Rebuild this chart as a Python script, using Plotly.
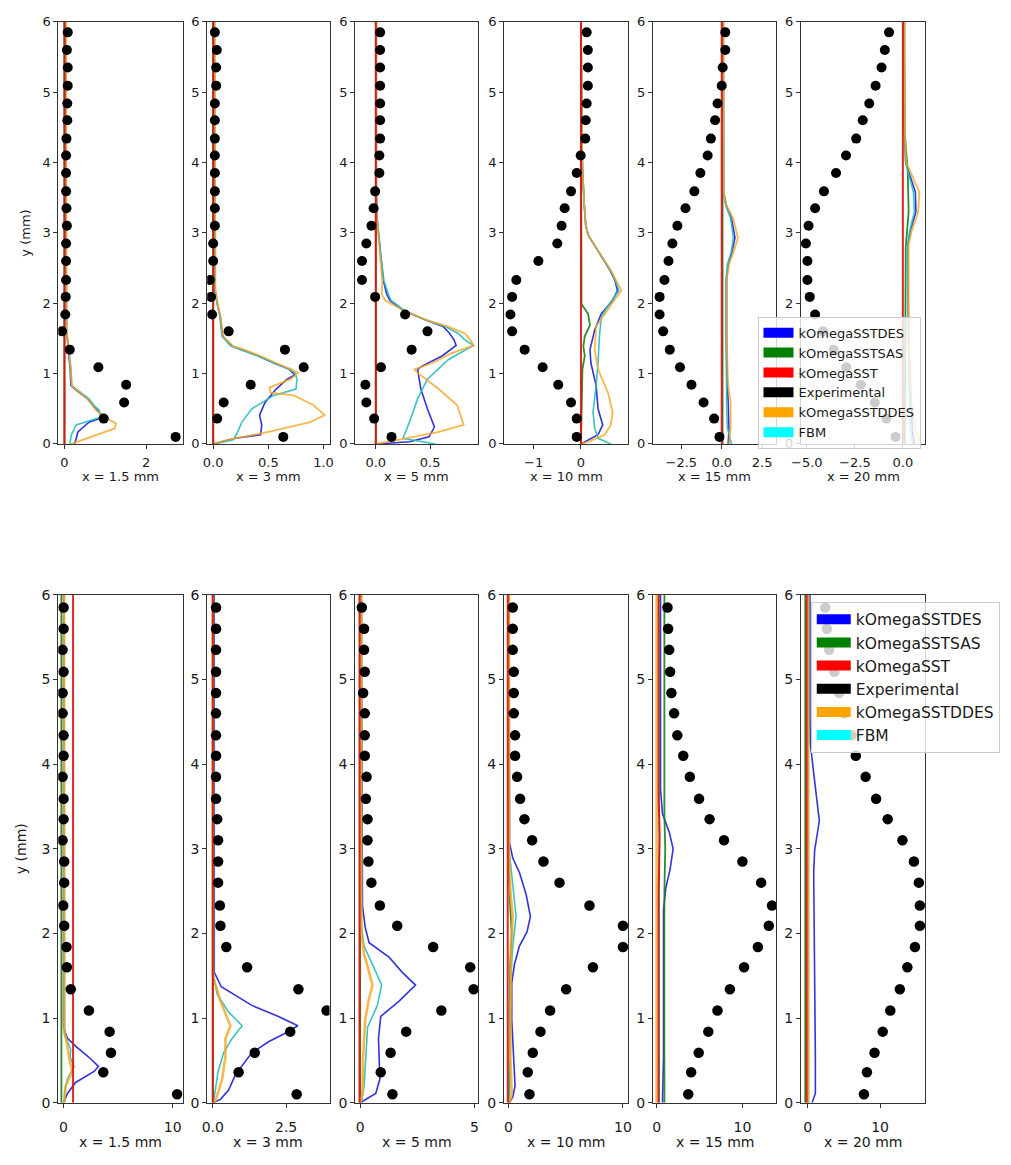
import plotly.graph_objects as go

W, H = 1011, 1165

# ---------------------------------------------------------------------------
# Data
# ---------------------------------------------------------------------------
models = ["kOmegaSSTDES", "kOmegaSSTSAS", "kOmegaSST", "Experimental", "kOmegaSSTDDES", "FBM"]
stations = ["1.5", "3", "5", "10", "15", "20"]
y_ticks = [0, 1, 2, 3, 4, 5, 6]

# experimental measurement heights (mm), shared by every station
y_exp = [0.10, 0.36, 0.59, 0.84, 1.09, 1.34, 1.60, 1.84, 2.09, 2.33, 2.60, 2.85,
         3.10, 3.35, 3.59, 3.85, 4.10, 4.34, 4.60, 4.84, 5.09, 5.35, 5.60, 5.85]

# ----- upper row: experimental profiles -----
a1p5_exp = [2.72, 0.96, 1.46, 1.51, 0.83, 0.13, -0.06, 0.02, 0.03, 0.04, 0.04, 0.04,
            0.06, 0.05, 0.04, 0.04, 0.04, 0.05, 0.07, 0.07, 0.08, 0.08, 0.06, 0.08]
a3_exp = [0.635, 0.036, 0.095, 0.34, 0.82, 0.65, 0.14, -0.01, -0.02, -0.03, 0.0, 0.0,
          0.015, 0.015, 0.015, 0.015, 0.015, 0.015, 0.015, 0.015, 0.027, 0.027, 0.033, 0.015]
a5_exp = [0.145, -0.015, -0.087, -0.096, 0.048, 0.33, 0.476, 0.27, -0.006, -0.127, -0.127, -0.087,
          -0.04, -0.02, -0.006, 0.033, 0.033, 0.04, 0.04, 0.04, 0.04, 0.04, 0.04, 0.04]
a10_exp = [-0.09, -0.09, -0.21, -0.48, -0.81, -1.19, -1.455, -1.49, -1.455, -1.366, -0.9, -0.5,
           -0.41, -0.345, -0.21, -0.09, -0.007, 0.09, 0.1, 0.12, 0.145, 0.145, 0.145, 0.12]
a15_exp = [-0.14, -0.47, -1.12, -1.87, -2.58, -3.21, -3.62, -3.84, -3.84, -3.54, -3.29, -3.05,
           -2.74, -2.24, -1.69, -1.32, -0.87, -0.67, -0.41, -0.26, 0.0, 0.06, 0.22, 0.22]
a20_exp = [-0.38, -0.86, -1.46, -2.19, -2.95, -3.6, -4.16, -4.57, -4.85, -4.97, -4.97, -5.05,
           -4.91, -4.57, -4.11, -3.48, -2.96, -2.43, -2.09, -1.75, -1.42, -1.11, -0.94, -0.72]

# ----- upper row: simulations, x = 1.5 mm -----
a1p5_des_y = [0, 0.17, 0.31, 0.38, 0.48, 0.55, 0.64, 0.76, 0.83, 1.06, 1.34, 1.62, 6]
a1p5_des_u = [0.25, 0.33, 0.6, 0.96, 0.8, 0.69, 0.57, 0.29, 0.16, 0.14, 0.09, 0.05, 0.02]
a1p5_sas_y = [0, 6]
a1p5_sas_u = [0, 0]
a1p5_sst_y = [0, 6]
a1p5_sst_u = [0, 0]
a1p5_ddes_y = [0, 0.13, 0.22, 0.29, 0.38, 0.48, 0.55, 0.64, 0.76, 0.83, 1.06, 1.34, 1.62, 6]
a1p5_ddes_u = [0.17, 0.77, 1.23, 1.26, 1.0, 0.77, 0.68, 0.56, 0.3, 0.18, 0.15, 0.11, 0.05, 0.04]
a1p5_fbm_y = [0, 0.13, 0.27, 0.38, 0.48, 0.55, 0.64, 0.76, 0.83, 1.06, 1.34, 1.62, 6]
a1p5_fbm_u = [0.13, 0.17, 0.29, 0.88, 0.85, 0.72, 0.6, 0.32, 0.18, 0.16, 0.1, 0.05, 0.03]

# ----- upper row: x = 3 mm -----
a3_des_y = [0, 0.08, 0.13, 0.27, 0.41, 0.59, 0.78, 0.92, 0.98, 1.06, 1.15, 1.25, 1.34, 1.39, 1.53, 1.81, 2.0, 2.2, 6]
a3_des_u = [0, 0.2, 0.43, 0.44, 0.42, 0.47, 0.57, 0.67, 0.74, 0.69, 0.55, 0.41, 0.26, 0.17, 0.086, 0.065, 0.036, 0.015, 0.01]
a3_sas_y = [0, 6]
a3_sas_u = [0, 0]
a3_sst_y = [0, 6]
a3_sst_u = [0, 0]
a3_ddes_y = [0, 0.06, 0.17, 0.31, 0.41, 0.55, 0.69, 0.73, 0.80, 0.92, 1.01, 1.06, 1.15, 1.25, 1.34, 1.39, 1.53, 1.81, 2.0, 2.2, 6]
a3_ddes_u = [0, 0.14, 0.5, 0.88, 1.01, 0.91, 0.73, 0.52, 0.51, 0.70, 0.77, 0.71, 0.57, 0.43, 0.28, 0.18, 0.09, 0.065, 0.04, 0.02, 0.015]
a3_fbm_y = [0, 0.06, 0.13, 0.31, 0.5, 0.69, 0.78, 0.92, 1.01, 1.06, 1.15, 1.25, 1.34, 1.39, 1.53, 1.81, 2.0, 2.2, 6]
a3_fbm_u = [0.02, 0.18, 0.21, 0.26, 0.35, 0.55, 0.75, 0.76, 0.74, 0.69, 0.55, 0.41, 0.25, 0.16, 0.08, 0.06, 0.035, 0.015, 0.01]

# ----- upper row: x = 5 mm -----
a5_des_y = [0, 0.03, 0.1, 0.24, 0.5, 0.78, 1.06, 1.11, 1.25, 1.4, 1.48, 1.57, 1.67, 1.76, 1.9, 2.04, 2.13, 2.32, 2.69, 3.16, 3.58, 6]
a5_des_u = [0.0, 0.31, 0.49, 0.54, 0.475, 0.415, 0.385, 0.43, 0.61, 0.74, 0.72, 0.68, 0.62, 0.46, 0.25, 0.13, 0.1, 0.07, 0.045, 0.015, 0.005, 0.005]
a5_sas_y = [0, 6]
a5_sas_u = [0, 0]
a5_sst_y = [0, 6]
a5_sst_u = [0, 0]
a5_ddes_y = [0, 0.06, 0.17, 0.27, 0.55, 0.78, 1.01, 1.06, 1.15, 1.29, 1.4, 1.48, 1.57, 1.67, 1.76, 1.9, 2.04, 2.13, 2.32, 2.69, 3.16, 3.58, 6]
a5_ddes_u = [0, 0.22, 0.58, 0.81, 0.75, 0.58, 0.385, 0.355, 0.52, 0.70, 0.9, 0.87, 0.82, 0.66, 0.47, 0.25, 0.085, 0.055, 0.06, 0.04, 0.012, 0.003, 0.003]
a5_fbm_y = [0, 0.08, 0.31, 0.64, 0.92, 1.2, 1.4, 1.48, 1.57, 1.67, 1.76, 1.9, 2.04, 2.13, 2.32, 2.69, 3.16, 3.58, 6]
a5_fbm_u = [0.55, 0.25, 0.31, 0.385, 0.475, 0.67, 0.9, 0.82, 0.76, 0.64, 0.46, 0.26, 0.14, 0.115, 0.075, 0.045, 0.015, 0.005, 0.005]

# ----- upper row: x = 10 mm -----
a10_des_y = [0, 0.03, 0.13, 0.27, 0.5, 0.83, 1.15, 1.34, 1.62, 1.85, 2.04, 2.18, 2.32, 2.46, 2.6, 2.83, 2.97, 3.11, 3.39, 3.95, 6]
a10_des_u = [0, 0.08, 0.36, 0.46, 0.36, 0.32, 0.21, 0.19, 0.29, 0.43, 0.67, 0.77, 0.72, 0.62, 0.49, 0.28, 0.15, 0.1, 0.07, 0.03, 0.0]
a10_sas_y = [0, 1.06, 1.25, 1.39, 1.53, 1.69, 1.85, 1.99, 6]
a10_sas_u = [0, 0.03, 0.08, 0.05, 0.08, 0.19, 0.15, 0.01, 0.0]
a10_sst_y = [0, 6]
a10_sst_u = [0, 0]
a10_ddes_y = [0, 0.03, 0.13, 0.27, 0.45, 0.73, 1.06, 1.34, 1.67, 1.85, 2.04, 2.18, 2.32, 2.46, 2.6, 2.83, 2.97, 3.11, 3.39, 3.95, 6]
a10_ddes_u = [0, 0.15, 0.5, 0.63, 0.67, 0.57, 0.36, 0.29, 0.32, 0.5, 0.7, 0.855, 0.75, 0.64, 0.5, 0.29, 0.15, 0.1, 0.07, 0.03, 0.0]
a10_fbm_y = [0, 0.08, 0.22, 0.45, 0.83, 1.15, 1.53, 1.81, 1.99, 2.18, 2.32, 2.46, 2.6, 2.83, 2.97, 3.11, 3.39, 3.95, 6]
a10_fbm_u = [0.63, 0.36, 0.29, 0.255, 0.32, 0.36, 0.39, 0.43, 0.6, 0.8, 0.73, 0.63, 0.5, 0.29, 0.15, 0.1, 0.07, 0.03, 0.0]

# ----- upper row: x = 15 mm -----
a15_des_y = [0, 0.22, 0.59, 0.83, 1.5, 2.32, 2.55, 2.74, 2.93, 3.21, 3.39, 3.58, 6]
a15_des_u = [0.4, 0.45, 0.4, 0.35, 0.3, 0.3, 0.4, 0.65, 0.82, 0.6, 0.28, 0.12, 0.1]
a15_sas_y = [0, 6]
a15_sas_u = [0.05, 0.05]
a15_sst_y = [0, 6]
a15_sst_u = [0, 0]
a15_ddes_y = [0, 0.22, 0.59, 0.83, 1.5, 2.32, 2.55, 2.74, 2.93, 3.21, 3.39, 3.58, 6]
a15_ddes_u = [0.45, 0.55, 0.55, 0.4, 0.3, 0.3, 0.45, 0.75, 1.0, 0.7, 0.3, 0.12, 0.1]
a15_fbm_y = [0, 0.22, 0.59, 0.83, 1.5, 2.32, 2.55, 2.74, 2.93, 3.21, 3.39, 3.58, 6]
a15_fbm_u = [0.6, 0.35, 0.3, 0.3, 0.25, 0.25, 0.35, 0.6, 0.72, 0.55, 0.25, 0.1, 0.1]

# ----- upper row: x = 20 mm -----
a20_des_y = [0, 0.08, 0.17, 0.59, 1.5, 2.5, 2.83, 3.02, 3.3, 3.58, 3.86, 4.0, 4.5, 6]
a20_des_u = [0.6, 0.55, 0.5, 0.43, 0.3, 0.26, 0.26, 0.38, 0.68, 0.65, 0.34, 0.15, 0.08, 0.08]
a20_sas_y = [0, 2.8, 3.3, 3.9, 4.4, 6]
a20_sas_u = [0.1, 0.15, 0.3, 0.25, 0.1, 0.05]
a20_sst_y = [0, 6]
a20_sst_u = [0, 0]
a20_ddes_y = [0, 0.08, 0.17, 0.59, 1.5, 2.5, 2.83, 3.02, 3.3, 3.58, 3.86, 4.0, 4.5, 6]
a20_ddes_u = [0.9, 0.86, 0.68, 0.45, 0.3, 0.28, 0.3, 0.45, 0.8, 0.86, 0.4, 0.18, 0.1, 0.1]
a20_fbm_y = [0, 0.08, 0.17, 0.59, 1.5, 2.5, 2.83, 3.02, 3.3, 3.58, 3.86, 4.0, 4.5, 6]
a20_fbm_u = [0.5, 0.45, 0.4, 0.35, 0.28, 0.25, 0.25, 0.35, 0.6, 0.55, 0.3, 0.14, 0.07, 0.07]

# ----- lower row: experimental profiles -----
b1p5_exp = [10.4, 3.64, 4.34, 4.22, 2.32, 0.66, 0.3, 0.27, 0.06, -0.03, 0.06, 0.06,
            -0.09, 0.0, 0.0, -0.09, 0.0, 0.0, -0.09, -0.09, 0.0, -0.09, 0.0, 0.0]
b3_exp = [2.86, 0.88, 1.43, 2.64, 3.88, 2.92, 1.17, 0.46, 0.26, 0.24, 0.18, 0.18,
          0.18, 0.15, 0.11, 0.11, 0.11, 0.11, 0.11, 0.11, 0.11, 0.11, 0.11, 0.11]
b5_exp = [1.41, 0.9, 1.33, 2.01, 3.55, 4.96, 4.81, 3.19, 1.62, 0.86, 0.49, 0.36,
          0.32, 0.32, 0.25, 0.28, 0.2, 0.2, 0.2, 0.13, 0.2, 0.17, 0.17, 0.07]
b10_exp = [1.84, 1.69, 2.13, 2.8, 3.64, 5.04, 7.38, 10.0, 10.0, 7.08, 4.46, 3.06,
           2.07, 1.4, 1.02, 0.76, 0.58, 0.58, 0.47, 0.47, 0.47, 0.38, 0.38, 0.38]
b15_exp = [3.68, 4.02, 4.9, 6.02, 7.09, 8.54, 10.19, 11.8, 13.07, 13.45, 12.18, 10.0,
           7.85, 6.17, 4.94, 3.87, 3.1, 2.41, 2.03, 1.72, 1.57, 1.46, 1.34, 1.26]
b20_exp = [7.77, 8.18, 9.23, 10.36, 11.41, 12.73, 13.77, 14.82, 15.5, 15.5, 15.36, 14.68,
           13.09, 11.05, 9.45, 8.0, 6.64, 6.05, 5.05, 4.32, 3.68, 2.95, 2.64, 2.41]

# ----- lower row: x = 1.5 mm -----
b1p5_des_y = [0, 0.11, 0.24, 0.37, 0.43, 0.54, 0.67, 0.76, 0.89, 6]
b1p5_des_u = [0, 0.36, 1.1, 2.8, 3.2, 2.3, 1.1, 0.36, 0.0, 0.0]
b1p5_sas_y = [0, 6]
b1p5_sas_u = [-0.2, -0.2]
b1p5_sst_y = [0, 6]
b1p5_sst_u = [0.87, 0.87]
b1p5_ddes_y = [0, 0.2, 0.37, 0.54, 0.7, 0.85, 6]
b1p5_ddes_u = [0.05, 0.2, 0.8, 0.5, 0.3, 0.05, 0.05]
b1p5_fbm_y = [0, 0.15, 0.28, 0.43, 0.54, 0.63, 0.8, 6]
b1p5_fbm_u = [0.05, 0.1, 0.36, 0.96, 0.6, 0.66, 0.1, 0.05]

# ----- lower row: x = 3 mm -----
b3_des_y = [0, 0.04, 0.15, 0.33, 0.46, 0.59, 0.72, 0.83, 0.91, 1.02, 1.15, 1.37, 1.54, 6]
b3_des_u = [0, 0.26, 0.54, 0.77, 1.05, 1.33, 1.9, 2.52, 2.9, 2.24, 1.33, 0.29, 0.05, 0.05]
b3_sas_y = [0, 6]
b3_sas_u = [0, 0]
b3_sst_y = [0, 6]
b3_sst_u = [0, 0]
b3_ddes_y = [0, 0.02, 0.28, 0.54, 0.76, 0.91, 1.2, 1.5, 6]
b3_ddes_u = [0, 0.09, 0.32, 0.43, 0.43, 0.6, 0.26, 0.0, 0.0]
b3_fbm_y = [0, 0.11, 0.37, 0.59, 0.76, 0.91, 1.07, 1.28, 1.5, 6]
b3_fbm_u = [0.02, 0.07, 0.18, 0.37, 0.66, 1.0, 0.54, 0.15, 0.03, 0.03]

# ----- lower row: x = 5 mm -----
b5_des_y = [0, 0.11, 0.28, 0.54, 0.76, 1.02, 1.2, 1.39, 1.54, 1.72, 1.89, 2.07, 2.33, 6]
b5_des_u = [0, 0.68, 0.86, 0.83, 0.8, 0.9, 1.7, 2.42, 1.84, 1.26, 0.39, 0.22, 0.1, 0.05]
b5_sas_y = [0, 6]
b5_sas_u = [0, 0]
b5_sst_y = [0, 6]
b5_sst_u = [-0.03, -0.03]
b5_ddes_y = [0, 0.11, 0.54, 0.98, 1.2, 1.39, 1.54, 1.76, 2.0, 6]
b5_ddes_u = [0.0, 0.1, 0.13, 0.22, 0.36, 0.54, 0.39, 0.17, 0.05, 0.05]
b5_fbm_y = [0, 0.2, 0.54, 0.89, 1.15, 1.39, 1.59, 1.85, 2.1, 6]
b5_fbm_u = [0.05, 0.17, 0.25, 0.32, 0.75, 0.94, 0.61, 0.17, 0.05, 0.05]

# ----- lower row: x = 10 mm -----
b10_des_y = [0, 0.07, 0.2, 0.54, 0.98, 1.41, 1.63, 1.85, 2.02, 2.2, 2.46, 2.72, 2.89, 3.07, 6]
b10_des_u = [0.1, 0.38, 0.58, 0.47, 0.29, 0.29, 0.52, 0.96, 1.63, 1.92, 1.55, 0.96, 0.38, 0.1, 0.05]
b10_sas_y = [0, 1.63, 2.02, 2.28, 2.7, 6]
b10_sas_u = [0.05, 0.15, 0.29, 0.17, 0.05, 0.05]
b10_sst_y = [0, 6]
b10_sst_u = [-0.06, -0.06]
b10_ddes_y = [0, 0.11, 0.54, 1.85, 2.2, 2.5, 2.9, 6]
b10_ddes_u = [0.1, 0.29, 0.17, 0.23, 0.38, 0.17, 0.05, 0.05]
b10_fbm_y = [0, 1.41, 1.85, 2.2, 2.28, 2.72, 3.0, 6]
b10_fbm_u = [0.1, 0.17, 0.38, 0.67, 0.61, 0.23, 0.05, 0.05]

# ----- lower row: x = 15 mm -----
b15_des_y = [0, 0.07, 0.54, 1.85, 2.28, 2.54, 2.76, 3.0, 3.2, 3.41, 3.7, 6]
b15_des_u = [0.69, 0.69, 0.8, 0.8, 0.8, 1.07, 1.57, 1.92, 1.46, 0.69, 0.45, 0.45]
b15_sas_y = [0, 2.5, 3.0, 3.4, 6]
b15_sas_u = [0.9, 0.9, 1.0, 0.9, 0.9]
b15_sst_y = [0, 2.5, 3.15, 3.6, 6]
b15_sst_u = [0.23, 0.23, 0.35, 0.23, 0.23]
b15_ddes_y = [0, 6]
b15_ddes_u = [0.0, 0.0]
b15_fbm_y = [0, 6]
b15_fbm_u = [0.3, 0.3]

# ----- lower row: x = 20 mm -----
b20_des_y = [0, 0.11, 0.54, 1.85, 2.72, 2.98, 3.33, 3.8, 4.24, 4.6, 6]
b20_des_u = [0.6, 1.05, 1.05, 0.95, 0.82, 0.95, 1.6, 0.95, 0.36, 0.3, 0.3]
b20_sas_y = [0, 6]
b20_sas_u = [-0.35, -0.35]
b20_sst_y = [0, 3.0, 3.5, 4.0, 6]
b20_sst_u = [-0.15, -0.15, -0.05, -0.15, -0.15]
b20_ddes_y = [0, 6]
b20_ddes_u = [0.05, 0.05]
b20_fbm_y = [0, 6]
b20_fbm_u = [0.1, 0.1]

# axis ranges and tick labels for each station
a_ranges = [[-0.15, 2.89], [-0.054, 1.054], [-0.19, 0.945], [-1.625, 1.0], [-4.25, 3.37], [-5.31, 1.16]]
a_tickvals = [[0, 2], [0, 0.5, 1.0], [0, 0.5], [-1, 0], [-2.5, 0, 2.5], [-5, -2.5, 0]]
a_ticktext = [["0", "2"], ["0.0", "0.5", "1.0"], ["0.0", "0.5"], ["\u22121", "0"],
              ["\u22122.5", "0.0", "2.5"], ["\u22125.0", "\u22122.5", "0.0"]]
b_ranges = [[-0.48, 10.9], [-0.19, 3.98], [-0.22, 5.17], [-0.38, 10.47], [-0.43, 13.94], [-0.95, 16.23]]
b_tickvals = [[0, 10], [0, 2.5], [0, 5], [0, 10], [0, 10], [0, 10]]
b_ticktext = [["0", "10"], ["0.0", "2.5"], ["0", "5"], ["0", "10"], ["0", "10"], ["0", "10"]]

# ---------------------------------------------------------------------------
# Assemble the per-panel collections from the named arrays
# ---------------------------------------------------------------------------
row_a = [
    (a1p5_exp, (a1p5_des_y, a1p5_des_u), (a1p5_sas_y, a1p5_sas_u), (a1p5_sst_y, a1p5_sst_u), (a1p5_ddes_y, a1p5_ddes_u), (a1p5_fbm_y, a1p5_fbm_u)),
    (a3_exp, (a3_des_y, a3_des_u), (a3_sas_y, a3_sas_u), (a3_sst_y, a3_sst_u), (a3_ddes_y, a3_ddes_u), (a3_fbm_y, a3_fbm_u)),
    (a5_exp, (a5_des_y, a5_des_u), (a5_sas_y, a5_sas_u), (a5_sst_y, a5_sst_u), (a5_ddes_y, a5_ddes_u), (a5_fbm_y, a5_fbm_u)),
    (a10_exp, (a10_des_y, a10_des_u), (a10_sas_y, a10_sas_u), (a10_sst_y, a10_sst_u), (a10_ddes_y, a10_ddes_u), (a10_fbm_y, a10_fbm_u)),
    (a15_exp, (a15_des_y, a15_des_u), (a15_sas_y, a15_sas_u), (a15_sst_y, a15_sst_u), (a15_ddes_y, a15_ddes_u), (a15_fbm_y, a15_fbm_u)),
    (a20_exp, (a20_des_y, a20_des_u), (a20_sas_y, a20_sas_u), (a20_sst_y, a20_sst_u), (a20_ddes_y, a20_ddes_u), (a20_fbm_y, a20_fbm_u)),
]
row_b = [
    (b1p5_exp, (b1p5_des_y, b1p5_des_u), (b1p5_sas_y, b1p5_sas_u), (b1p5_sst_y, b1p5_sst_u), (b1p5_ddes_y, b1p5_ddes_u), (b1p5_fbm_y, b1p5_fbm_u)),
    (b3_exp, (b3_des_y, b3_des_u), (b3_sas_y, b3_sas_u), (b3_sst_y, b3_sst_u), (b3_ddes_y, b3_ddes_u), (b3_fbm_y, b3_fbm_u)),
    (b5_exp, (b5_des_y, b5_des_u), (b5_sas_y, b5_sas_u), (b5_sst_y, b5_sst_u), (b5_ddes_y, b5_ddes_u), (b5_fbm_y, b5_fbm_u)),
    (b10_exp, (b10_des_y, b10_des_u), (b10_sas_y, b10_sas_u), (b10_sst_y, b10_sst_u), (b10_ddes_y, b10_ddes_u), (b10_fbm_y, b10_fbm_u)),
    (b15_exp, (b15_des_y, b15_des_u), (b15_sas_y, b15_sas_u), (b15_sst_y, b15_sst_u), (b15_ddes_y, b15_ddes_u), (b15_fbm_y, b15_fbm_u)),
    (b20_exp, (b20_des_y, b20_des_u), (b20_sas_y, b20_sas_u), (b20_sst_y, b20_sst_u), (b20_ddes_y, b20_ddes_u), (b20_fbm_y, b20_fbm_u)),
]

# ---------------------------------------------------------------------------
# Styling and page geometry (pixels in a 1011 x 1165 page)
# ---------------------------------------------------------------------------
FONT = "DejaVu Sans, Liberation Sans, sans-serif"
TXT = "#1a1a1a"
AX = "#333333"

patch_colors = {"kOmegaSSTDES": "#0000ff", "kOmegaSSTSAS": "#008000", "kOmegaSST": "#ff0000",
                "Experimental": "#000000", "kOmegaSSTDDES": "#ffa500", "FBM": "#00ffff"}
line_style = {
    "kOmegaSSTDES": dict(color="#1f1fd6", width=1.6),
    "kOmegaSSTSAS": dict(color="#1a801a", width=1.8),
    "kOmegaSST": dict(color="#e01010", width=2.0),
    "kOmegaSSTDDES": dict(color="#f5a623", width=1.8),
    "FBM": dict(color="#27bdbd", width=1.6),
}
line_opacity = {"kOmegaSSTDES": 0.9, "kOmegaSSTSAS": 0.9, "kOmegaSST": 0.9,
                "kOmegaSSTDDES": 0.8, "FBM": 0.9}

panel_px = [(49, 175), (200, 324), (350, 475), (501, 627), (652, 777), (802, 928)]
rows = [
    dict(data=row_a, ranges=a_ranges, tv=a_tickvals, tt=a_ticktext, top=14, bottom=442,
         fs=13, ms=10, xtitle_y=475, ytitle=(16, 228), legend="legend", standoff=2, ddes_w=1.8),
    dict(data=row_b, ranges=b_ranges, tv=b_tickvals, tt=b_ticktext, top=595, bottom=1110,
         fs=14, ms=10.5, xtitle_y=1150, ytitle=(11, 852), legend="legend2", standoff=7, ddes_w=2.6),
]

fig = go.Figure()
layout = {}
annotations = []

# drawing order of the model curves inside a panel
draw_order = [("kOmegaSSTDES", 1), ("kOmegaSSTSAS", 2), ("FBM", 5), ("kOmegaSSTDDES", 4), ("kOmegaSST", 3)]

k = 0
for row in rows:
    for j, panel in enumerate(row["data"]):
        k += 1
        xa = "x" if k == 1 else f"x{k}"
        ya = "y" if k == 1 else f"y{k}"
        for name, idx in draw_order:
            yy, uu = panel[idx]
            style = dict(line_style[name])
            if name == "kOmegaSSTDDES":
                style["width"] = row["ddes_w"]
            fig.add_trace(go.Scatter(x=uu, y=yy, mode="lines", line=style,
                                     opacity=line_opacity[name], xaxis=xa, yaxis=ya,
                                     showlegend=False, hoverinfo="skip"))
        fig.add_trace(go.Scatter(x=panel[0], y=y_exp, mode="markers",
                                 marker=dict(color="black", size=row["ms"]),
                                 xaxis=xa, yaxis=ya, showlegend=False, hoverinfo="skip"))

        x0, x1 = panel_px[j]
        axis_common = dict(showline=True, mirror=True, linecolor=AX, linewidth=1,
                           ticks="outside", ticklen=4, tickcolor=AX, showgrid=False,
                           zeroline=False, tickfont=dict(family=FONT, size=row["fs"], color=TXT))
        layout["xaxis" if k == 1 else f"xaxis{k}"] = dict(
            domain=[x0 / W, x1 / W], range=row["ranges"][j], anchor=ya,
            tickvals=row["tv"][j], ticktext=row["tt"][j],
            ticklabelstandoff=row["standoff"], **axis_common)
        layout["yaxis" if k == 1 else f"yaxis{k}"] = dict(
            domain=[1 - row["bottom"] / H, 1 - row["top"] / H], range=[0, 6], anchor=xa,
            tickvals=y_ticks, ticktext=[str(v) for v in y_ticks], **axis_common)

        annotations.append(dict(text=f"x = {stations[j]} mm", xref="paper", yref="paper",
                                x=(x0 + x1) / 2 / W, y=1 - row["xtitle_y"] / H,
                                xanchor="center", yanchor="middle", showarrow=False,
                                font=dict(family=FONT, size=row["fs"], color=TXT)))
    annotations.append(dict(text="y (mm)", xref="paper", yref="paper",
                            x=row["ytitle"][0] / W, y=1 - row["ytitle"][1] / H, textangle=-90,
                            xanchor="center", yanchor="middle", showarrow=False,
                            font=dict(family=FONT, size=row["fs"], color=TXT)))

# legend entries drawn as colour patches, one set per row
for legend_id in ["legend", "legend2"]:
    for name in models:
        fig.add_trace(go.Scatter(x=[None], y=[None], mode="lines", name=name,
                                 line=dict(color=patch_colors[name], width=10),
                                 legend=legend_id, showlegend=True, hoverinfo="skip"))

fig.update_layout(
    width=W, height=H, margin=dict(l=0, r=0, t=0, b=0),
    paper_bgcolor="white", plot_bgcolor="white",
    font=dict(family=FONT, color=TXT),
    annotations=annotations,
    legend=dict(x=758 / W, y=1 - 313 / H, xanchor="left", yanchor="top",
                bgcolor="rgba(255,255,255,0.8)", bordercolor="#cccccc", borderwidth=1,
                font=dict(family=FONT, size=13, color=TXT), tracegroupgap=0, itemwidth=30),
    legend2=dict(x=812 / W, y=1 - 602 / H, xanchor="left", yanchor="top",
                 bgcolor="rgba(255,255,255,0.8)", bordercolor="#cccccc", borderwidth=1,
                 font=dict(family=FONT, size=15.5, color=TXT), tracegroupgap=0, itemwidth=34),
    **layout,
)

fig.write_html("out.html")
